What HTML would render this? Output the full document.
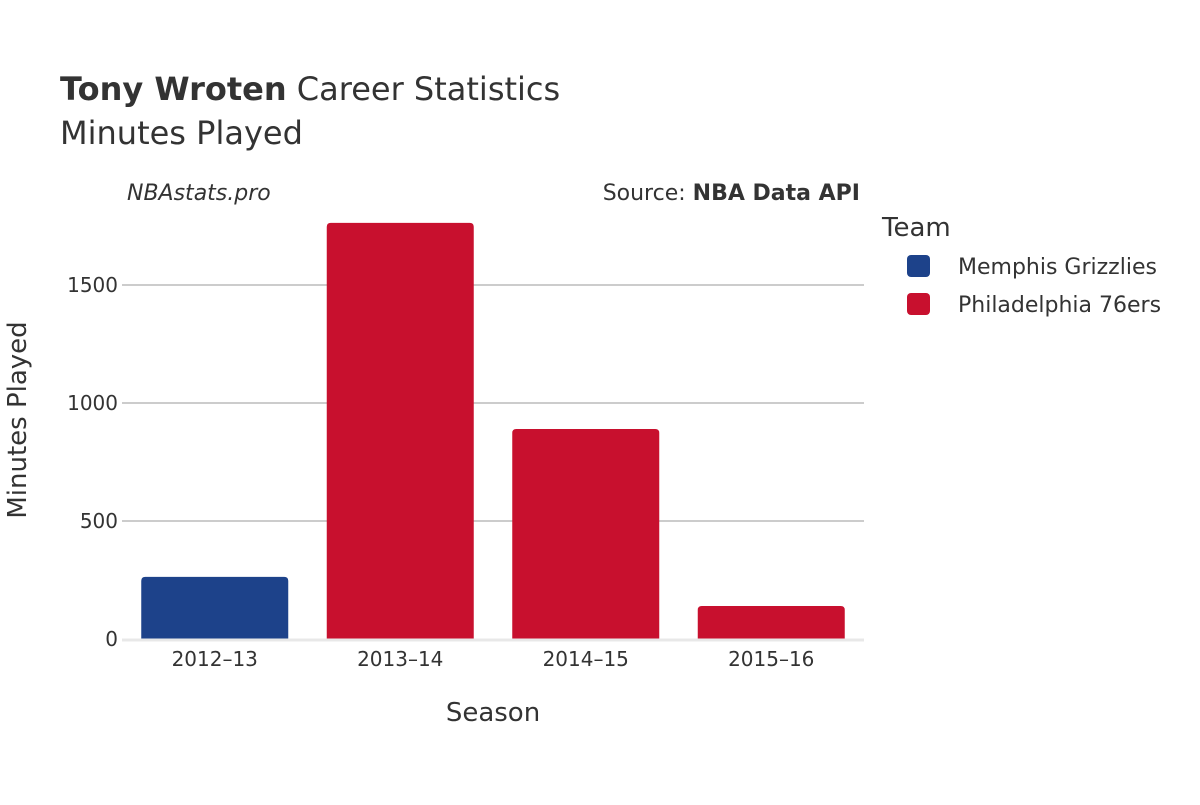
<!DOCTYPE html>
<html><head><meta charset="utf-8"><style>
body{margin:0;background:#fff}
svg text{font-family:"DejaVu Sans","Liberation Sans",sans-serif;fill:#333}
</style></head><body>
<svg id="chart" width="1200" height="800" xmlns="http://www.w3.org/2000/svg">
<rect width="1200" height="800" fill="#fff"/>
<text x="60" y="100" font-size="32"><tspan font-weight="bold">Tony Wroten</tspan> Career Statistics</text>
<text x="60" y="144" font-size="32">Minutes Played</text>
<text x="127" y="200" font-size="22" font-style="italic">NBAstats.pro</text>
<text x="860" y="200" font-size="22" text-anchor="end">Source: <tspan font-weight="bold">NBA Data API</tspan></text>
<g id="grid"></g>
<g id="bars"></g>
<g id="yticks"></g>
<g id="xticks"></g>
<text x="493" y="721" font-size="26" text-anchor="middle">Season</text>
<text transform="translate(26,420) rotate(-90)" font-size="26" text-anchor="middle">Minutes Played</text>
<g>
<text x="882" y="236" font-size="26">Team</text>
<g><rect x="907" y="255" width="23" height="22" rx="4" fill="#1d428a"/><text x="958" y="274" font-size="22">Memphis Grizzlies</text></g>
<g><rect x="907" y="293" width="23" height="22" rx="4" fill="#c8102e"/><text x="958" y="312" font-size="22">Philadelphia 76ers</text></g>
</g>
</svg>
<script>
const seasons=["2012–13","2013–14","2014–15","2015–16"];
const minutes=[263,1763,890,140];
const teams=["Memphis Grizzlies","Philadelphia 76ers","Philadelphia 76ers","Philadelphia 76ers"];
const yTickValues=[0,500,1000,1500];
const colors={"Memphis Grizzlies":"#1d428a","Philadelphia 76ers":"#c8102e"};
const NS="http://www.w3.org/2000/svg";
const x0=122,x1=864,yZero=639,pxPer=118/500;
const band=(x1-x0)/seasons.length,barW=147;
const y=v=>yZero-v*pxPer;
const xc=i=>x0+band*(i+0.5);
function mk(t,a,p){const e=document.createElementNS(NS,t);for(const k in a)e.setAttribute(k,a[k]);p.appendChild(e);return e;}
const grid=document.getElementById('grid'),bars=document.getElementById('bars'),yt=document.getElementById('yticks'),xt=document.getElementById('xticks');
yTickValues.forEach(v=>{
 if(v>0){const l=mk('line',{x1:x0,x2:x1,y1:y(v),y2:y(v),stroke:'#999','stroke-width':1},grid);
 
 }
 const t=mk('text',{x:x0-4,y:y(v)+7,'font-size':20,'text-anchor':'end'},yt);t.textContent=v;
 
 
});
minutes.forEach((v,i)=>{
 const top=y(v),h=yZero-top,r=Math.min(4,h/2),l=xc(i)-barW/2,rr=l+barW;
 const p=mk('path',{d:`M${l},${yZero}V${top+r}Q${l},${top} ${l+r},${top}H${rr-r}Q${rr},${top} ${rr},${top+r}V${yZero}Z`,fill:colors[teams[i]]},bars);
 
 
 const t=mk('text',{x:xc(i),y:666,'font-size':20,'text-anchor':'middle'},xt);t.textContent=seasons[i];
 
 
});
const z=mk('line',{x1:x0,x2:x1,y1:yZero+1,y2:yZero+1,stroke:'#e8e8e8','stroke-width':3},grid.parentNode);


</script>
</body></html>
